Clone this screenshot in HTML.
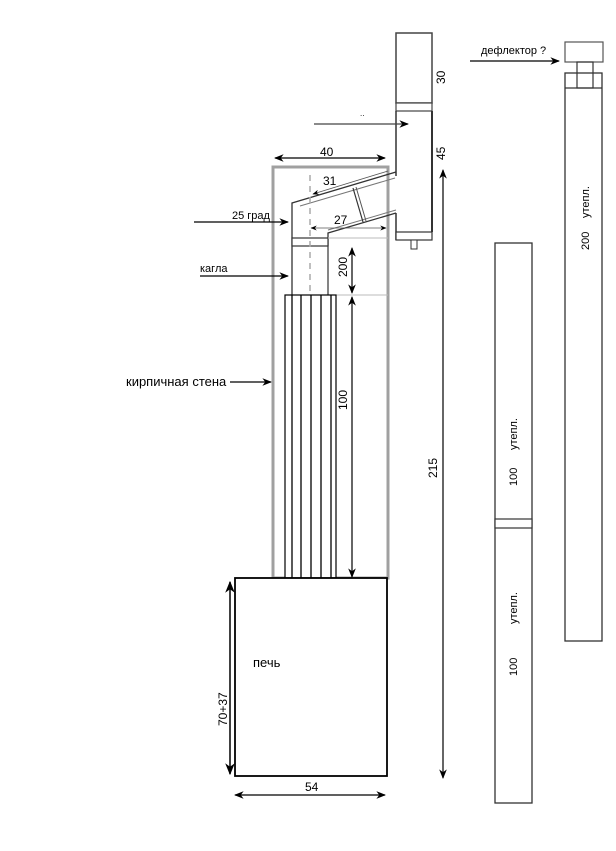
<!DOCTYPE html>
<html><head><meta charset="utf-8"><style>
html,body{margin:0;padding:0;background:#fff;}
svg{display:block;}
text{font-family:"Liberation Sans","DejaVu Sans",sans-serif;fill:#000;}
</style></head><body>
<svg width="616" height="851" viewBox="0 0 616 851" xmlns="http://www.w3.org/2000/svg">
<defs>
<marker id="a" viewBox="0 0 10 10" refX="9" refY="5" markerWidth="8" markerHeight="8" orient="auto-start-reverse"><path d="M0,1 L10,5 L0,9 L3,5 Z" fill="#000"/></marker>
</defs>
<!-- brick wall -->
<rect x="273" y="167" width="115" height="411" fill="none" stroke="#a0a0a0" stroke-width="3"/>
<!-- chimney top pipe -->
<rect x="396" y="33" width="36" height="70" fill="#fff" stroke="#444" stroke-width="1.5"/>
<rect x="396" y="103" width="36" height="8" fill="#fff" stroke="#444" stroke-width="1.2"/>
<line x1="432" y1="111" x2="432" y2="232" stroke="#333" stroke-width="2"/>
<line x1="396" y1="111" x2="396" y2="176" stroke="#333" stroke-width="1.5"/>
<line x1="396" y1="213" x2="396" y2="240" stroke="#333" stroke-width="1.5"/>
<rect x="396" y="232" width="36" height="8" fill="#fff" stroke="#333" stroke-width="1.2"/>
<rect x="411" y="240" width="6" height="9" fill="#fff" stroke="#333" stroke-width="1"/>
<!-- elbow -->
<polyline points="292,295 292,203 396,172" fill="none" stroke="#333" stroke-width="1.3"/>
<line x1="300" y1="206" x2="395" y2="178" stroke="#777" stroke-width="1"/>
<polyline points="328,246 328,233 396,213" fill="none" stroke="#333" stroke-width="1.3"/>
<line x1="328" y1="230" x2="396" y2="210" stroke="#777" stroke-width="1"/>
<line x1="353" y1="188" x2="363" y2="222" stroke="#333" stroke-width="1.2"/>
<line x1="356" y1="187" x2="366" y2="221" stroke="#555" stroke-width="1"/>
<rect x="292" y="238" width="36" height="8" fill="#fff" stroke="#333" stroke-width="1.2"/>
<line x1="328" y1="246" x2="328" y2="295" stroke="#333" stroke-width="1.2"/>
<line x1="328" y1="238" x2="388" y2="238" stroke="#bbb" stroke-width="1"/>
<line x1="328" y1="295" x2="388" y2="295" stroke="#bbb" stroke-width="1"/>
<line x1="310" y1="175" x2="310" y2="295" stroke="#aaa" stroke-width="1.5" stroke-dasharray="6,5"/>
<!-- pipe sections -->
<rect x="285" y="295" width="51" height="283" fill="#fff" stroke="#000" stroke-width="1.2"/>
<g stroke="#000" stroke-width="1.3">
<line x1="292" y1="295" x2="292" y2="578"/><line x1="301" y1="295" x2="301" y2="578"/>
<line x1="311" y1="295" x2="311" y2="578"/><line x1="321" y1="295" x2="321" y2="578"/>
<line x1="331" y1="295" x2="331" y2="578"/>
</g>
<!-- stove -->
<rect x="235" y="578" width="152" height="198" fill="#fff" stroke="#000" stroke-width="1.8"/>
<text x="253" y="667" font-size="13">печь</text>
<line x1="230" y1="582" x2="230" y2="774" stroke="#000" stroke-width="1.5" marker-start="url(#a)" marker-end="url(#a)"/>
<text transform="translate(227,726) rotate(-90)" font-size="12">70+37</text>
<line x1="235" y1="795" x2="385" y2="795" stroke="#000" stroke-width="1.2" marker-start="url(#a)" marker-end="url(#a)"/>
<text x="305" y="791" font-size="12">54</text>
<!-- dims -->
<line x1="275" y1="158" x2="385" y2="158" stroke="#000" stroke-width="1.2" marker-start="url(#a)" marker-end="url(#a)"/>
<text x="320" y="156" font-size="12">40</text>
<line x1="313" y1="194" x2="388" y2="171" stroke="#555" stroke-width="0.8" marker-start="url(#a)"/>
<text x="323" y="185" font-size="12">31</text>
<line x1="311" y1="228" x2="386" y2="228" stroke="#555" stroke-width="0.8" marker-start="url(#a)" marker-end="url(#a)"/>
<text x="334" y="224" font-size="12">27</text>
<line x1="352" y1="248" x2="352" y2="293" stroke="#000" stroke-width="1.2" marker-start="url(#a)" marker-end="url(#a)"/>
<text transform="translate(347,277) rotate(-90)" font-size="12">200</text>
<line x1="352" y1="297" x2="352" y2="577" stroke="#000" stroke-width="1.2" marker-start="url(#a)" marker-end="url(#a)"/>
<text transform="translate(347,410) rotate(-90)" font-size="12">100</text>
<line x1="443" y1="170" x2="443" y2="778" stroke="#000" stroke-width="1.2" marker-start="url(#a)" marker-end="url(#a)"/>
<text transform="translate(437,478) rotate(-90)" font-size="12">215</text>
<text transform="translate(445,160) rotate(-90)" font-size="12">45</text>
<text transform="translate(445,84) rotate(-90)" font-size="12">30</text>
<line x1="314" y1="124" x2="408" y2="124" stroke="#444" stroke-width="1.2" marker-end="url(#a)"/>
<text x="360" y="116" font-size="8">..</text>
<!-- left labels -->
<text x="232" y="219" font-size="11">25 град</text>
<line x1="194" y1="222" x2="288" y2="222" stroke="#000" stroke-width="1.2" marker-end="url(#a)"/>
<text x="200" y="272" font-size="11">кагла</text>
<line x1="200" y1="276" x2="288" y2="276" stroke="#000" stroke-width="1.2" marker-end="url(#a)"/>
<text x="126" y="386" font-size="13">кирпичная стена</text>
<line x1="230" y1="382" x2="271" y2="382" stroke="#000" stroke-width="1.2" marker-end="url(#a)"/>
<!-- right column -->
<text x="481" y="54" font-size="11">дефлектор ?</text>
<line x1="470" y1="61" x2="559" y2="61" stroke="#000" stroke-width="1.2" marker-end="url(#a)"/>
<rect x="565" y="42" width="38" height="20" fill="#fff" stroke="#555" stroke-width="1.2"/>
<rect x="565" y="73" width="37" height="568" fill="#fff" stroke="#333" stroke-width="1.3"/>
<line x1="565" y1="88" x2="602" y2="88" stroke="#333" stroke-width="1.2"/>
<rect x="577" y="62" width="16" height="26" fill="none" stroke="#333" stroke-width="1.2"/>
<text transform="translate(589,218) rotate(-90)" font-size="11">утепл.</text>
<text transform="translate(589,250) rotate(-90)" font-size="11">200</text>
<!-- middle column -->
<rect x="495" y="243" width="37" height="560" fill="#fff" stroke="#333" stroke-width="1.3"/>
<rect x="495" y="519" width="37" height="9" fill="#fff" stroke="#333" stroke-width="1.2"/>
<text transform="translate(517,450) rotate(-90)" font-size="11">утепл.</text>
<text transform="translate(517,486) rotate(-90)" font-size="11">100</text>
<text transform="translate(517,624) rotate(-90)" font-size="11">утепл.</text>
<text transform="translate(517,676) rotate(-90)" font-size="11">100</text>
</svg>
</body></html>
